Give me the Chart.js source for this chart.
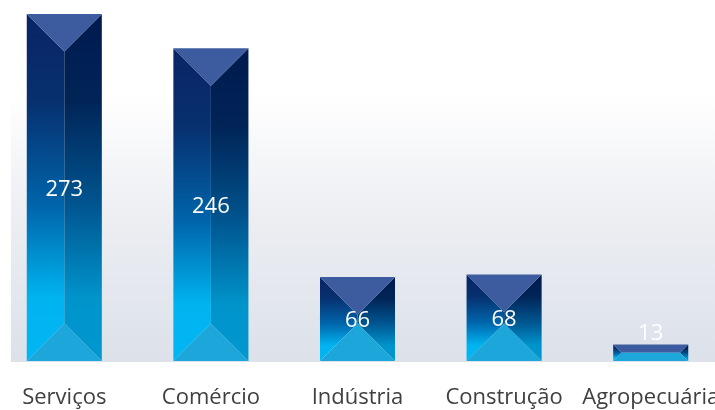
<!DOCTYPE html>
<html>
<head>
<meta charset="utf-8">
<script src="https://cdn.jsdelivr.net/npm/chart.js@4.4.1/dist/chart.umd.min.js"></script>
<style>
  html, body { margin: 0; padding: 0; background: #ffffff; overflow: hidden; width: 715px; height: 410px; }
  #grafico { position: absolute; left: -9px; top: 0; }
</style>
</head>
<body>
<canvas id="grafico" width="733" height="410"></canvas>
<script>
// dados
const setores = ['Serviços', 'Comércio', 'Indústria', 'Construção', 'Agropecuária'];
const empresas = [273, 246, 66, 68, 13];
const eixoMax = 284;

const fonte = '"Open Sans", "Noto Sans", sans-serif';

// fundo da área do gráfico (branco em cima, cinza azulado embaixo)
const fundoPlugin = {
    id: 'fundo',
    beforeDatasetsDraw(chart) {
        const { ctx, chartArea } = chart;
        const esq = chartArea.left + 20;
        const g = ctx.createLinearGradient(0, chartArea.top, 0, chartArea.bottom);
        g.addColorStop(0, '#ffffff');
        g.addColorStop(0.26, '#ffffff');
        g.addColorStop(0.6, '#eceef2');
        g.addColorStop(1, '#dce1ea');
        ctx.save();
        ctx.fillStyle = g;
        ctx.fillRect(esq, chartArea.top, chartArea.right - esq, chartArea.bottom - chartArea.top + 1);
        ctx.restore();
    }
};

function face(ctx, pts, cor) {
    ctx.beginPath();
    ctx.moveTo(pts[0][0], pts[0][1]);
    for (let i = 1; i < pts.length; i++) ctx.lineTo(pts[i][0], pts[i][1]);
    ctx.closePath();
    ctx.fillStyle = cor;
    ctx.fill();
}

// barras em forma de pirâmide vista de cima
const piramidePlugin = {
    id: 'piramide',
    afterDatasetsDraw(chart) {
        const { ctx } = chart;
        const meta = chart.getDatasetMeta(0);
        ctx.save();
        meta.data.forEach(bar => {
            const p = bar.getProps(['x', 'y', 'base', 'width'], true);
            const L = p.x - p.width / 2, R = p.x + p.width / 2;
            const T = p.y, B = p.base;
            const h = B - T;
            const d = Math.min(p.width, h) / 2;
            const p1 = [L + d, T + d], p2 = [R - d, T + d];
            const p3 = [R - d, B - d], p4 = [L + d, B - d];

            const gEsq = ctx.createLinearGradient(0, T, 0, B);
            gEsq.addColorStop(0, '#0a2466');
            gEsq.addColorStop(0.25, '#07306f');
            gEsq.addColorStop(0.55, '#0064aa');
            gEsq.addColorStop(0.82, '#00b4f0');
            gEsq.addColorStop(1, '#00b6f3');

            const gDir = ctx.createLinearGradient(0, T, 0, B);
            gDir.addColorStop(0, '#001a4e');
            gDir.addColorStop(0.25, '#012457');
            gDir.addColorStop(0.55, '#005590');
            gDir.addColorStop(0.82, '#0094cb');
            gDir.addColorStop(1, '#0098cf');

            face(ctx, [[L, B], [L, T], p1, p4], gEsq);
            face(ctx, [[R, T], [R, B], p3, p2], gDir);
            face(ctx, [[L, T], [R, T], p2, p1], '#3d5c9f');
            face(ctx, [[R, B], [L, B], p4, p3], '#1ca6da');
        });
        ctx.restore();
    },
    afterDraw(chart) {
        const { ctx } = chart;
        const meta = chart.getDatasetMeta(0);
        ctx.save();
        ctx.fillStyle = '#ffffff';
        ctx.font = '22px ' + fonte;
        ctx.textAlign = 'center';
        ctx.textBaseline = 'middle';
        meta.data.forEach((bar, i) => {
            const p = bar.getProps(['x', 'y', 'base'], true);
            const y = Math.min((p.y + p.base) / 2 + 2, p.base - 27);
            ctx.fillText(String(empresas[i]), p.x, y);
        });
        ctx.restore();
    }
};

new Chart(document.getElementById('grafico'), {
    type: 'bar',
    data: {
        labels: setores,
        datasets: [{
            data: empresas,
            backgroundColor: 'rgba(0,0,0,0)',
            borderWidth: 0,
            categoryPercentage: 1,
            barPercentage: 0.512
        }]
    },
    options: {
        responsive: false,
        animation: false,
        layout: { padding: 0 },
        plugins: {
            legend: { display: false },
            tooltip: { enabled: false }
        },
        scales: {
            x: {
                grid: { display: false, drawTicks: false },
                border: { display: false },
                afterFit(scale) {
                    scale.paddingLeft = 0;
                    scale.paddingRight = 0;
                    scale.height = 49;
                },
                ticks: {
                    color: '#404040',
                    padding: 24,
                    maxRotation: 0,
                    autoSkip: false,
                    font: { family: fonte, size: 22 }
                }
            },
            y: {
                display: false,
                min: 0,
                max: eixoMax
            }
        }
    },
    plugins: [fundoPlugin, piramidePlugin]
});
</script>
</body>
</html>
